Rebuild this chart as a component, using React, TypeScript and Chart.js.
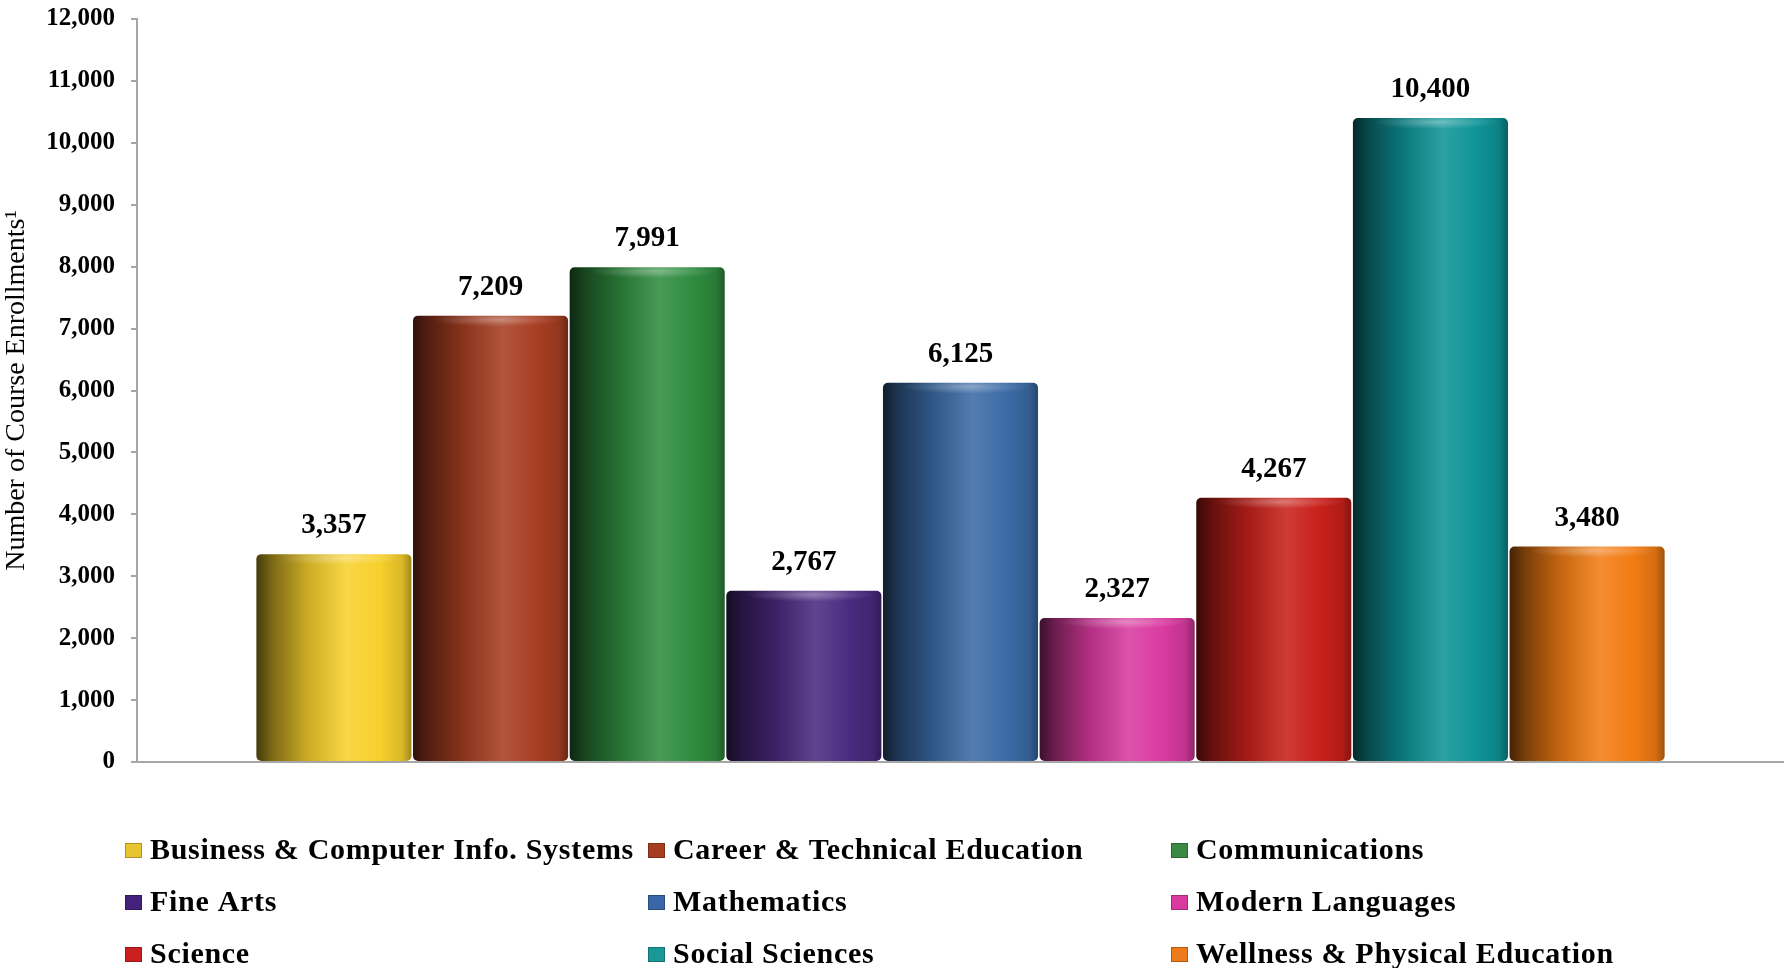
import React, { useEffect, useRef } from "react";
import { Chart, registerables } from "chart.js";

Chart.register(...registerables);

const categories = [
  "Business & Computer Info. Systems",
  "Career & Technical Education",
  "Communications",
  "Fine Arts",
  "Mathematics",
  "Modern Languages",
  "Science",
  "Social Sciences",
  "Wellness & Physical Education",
];
const enrollments = [3357, 7209, 7991, 2767, 6125, 2327, 4267, 10400, 3480];
const barColors = ["#F7D02C", "#A83E22", "#2F8C3F", "#4A2A80", "#3B6BA6", "#DA3AA0", "#C8201A", "#0E9497", "#F27C14"];
const legendColors = ["#E8C530", "#A83C20", "#3A8A44", "#42227A", "#3A66A8", "#D83AA0", "#CC2020", "#1A9898", "#EE7A1A"];
const yAxisTitle = "Number of Course Enrollments\u00B9";
const yMin = 0;
const yMax = 12000;
const yStep = 1000;

const SERIF = "'Liberation Serif', 'Times New Roman', serif";

function hexToRgb(h: string) {
  const n = parseInt(h.slice(1), 16);
  return [(n >> 16) & 255, (n >> 8) & 255, n & 255];
}
function mix(h: string, target: number, t: number) {
  const [r, g, b] = hexToRgb(h);
  const m = (v: number) => Math.round(v + (target - v) * t);
  return `rgb(${m(r)},${m(g)},${m(b)})`;
}

const cylinderPlugin = {
  id: "cylinder",
  beforeDatasetsDraw(chart: any) {
    const ctx = chart.ctx;
    chart.data.datasets.forEach((ds: any, i: number) => {
      const meta = chart.getDatasetMeta(i);
      const c = barColors[i];
      meta.data.forEach((el: any) => {
        const { x, width } = el.getProps(["x", "width"], true);
        const g = ctx.createLinearGradient(x - width / 2, 0, x + width / 2, 0);
        g.addColorStop(0, mix(c, 0, 0.72));
        g.addColorStop(0.1, mix(c, 0, 0.5));
        g.addColorStop(0.33, mix(c, 0, 0.18));
        g.addColorStop(0.58, mix(c, 255, 0.12));
        g.addColorStop(0.8, c);
        g.addColorStop(0.94, mix(c, 0, 0.12));
        g.addColorStop(1, mix(c, 0, 0.35));
        el.options = Object.assign({}, el.options, { backgroundColor: g });
      });
    });
  },
  afterDatasetsDraw(chart: any) {
    const ctx = chart.ctx;
    ctx.save();
    chart.data.datasets.forEach((ds: any, i: number) => {
      const meta = chart.getDatasetMeta(i);
      meta.data.forEach((el: any, j: number) => {
        const { x, y, width } = el.getProps(["x", "y", "width"], true);
        // soft elliptical top-cap highlight
        ctx.save();
        ctx.translate(x + width * 0.04, y + 4);
        ctx.scale(width * 0.42, 7);
        const hg = ctx.createRadialGradient(0, 0, 0, 0, 0, 1);
        hg.addColorStop(0, "rgba(255,255,255,0.32)");
        hg.addColorStop(0.6, "rgba(255,255,255,0.12)");
        hg.addColorStop(1, "rgba(255,255,255,0)");
        ctx.fillStyle = hg;
        ctx.beginPath();
        ctx.arc(0, 0, 1, 0, Math.PI * 2);
        ctx.fill();
        ctx.restore();
        // value label
        const v = ds.data[j];
        ctx.font = `bold 29px ${SERIF}`;
        ctx.fillStyle = "#000";
        ctx.textAlign = "center";
        ctx.textBaseline = "alphabetic";
        ctx.fillText(Number(v).toLocaleString("en-US"), x, y - 21);
      });
    });
    ctx.restore();
  },
};

const legendPlugin = {
  id: "gridLegend",
  afterDraw(chart: any) {
    const ctx = chart.ctx;
    const area = chart.chartArea;
    const colW = 523;
    const x0 = 125;
    const rowGap = 52;
    const firstBase = area.bottom + 97;
    ctx.save();
    ctx.font = `bold 30px ${SERIF}`;
    try { (ctx as any).letterSpacing = "0.7px"; } catch (e) {}
    ctx.textAlign = "left";
    ctx.textBaseline = "alphabetic";
    categories.forEach((name, i) => {
      const col = i % 3;
      const row = Math.floor(i / 3);
      const bx = x0 + col * colW;
      const base = firstBase + row * rowGap;
      ctx.fillStyle = legendColors[i];
      ctx.fillRect(bx, base - 16, 17, 15);
      ctx.strokeStyle = "rgba(0,0,0,0.25)";
      ctx.lineWidth = 1;
      ctx.strokeRect(bx + 0.5, base - 15.5, 16, 14);
      ctx.fillStyle = "#000";
      ctx.fillText(name, bx + 25, base);
    });
    ctx.restore();
  },
};

export default function App() {
  const ref = useRef<HTMLCanvasElement | null>(null);
  useEffect(() => {
    if (!ref.current) return;
    const chart = new Chart(ref.current, {
      type: "bar",
      data: {
        labels: [""],
        datasets: categories.map((name, i) => ({
          label: name,
          data: [enrollments[i]],
          backgroundColor: barColors[i],
          borderWidth: 0,
          borderRadius: 5,
          borderSkipped: false,
          categoryPercentage: 0.856,
          barPercentage: 0.99,
        })),
      },
      options: {
        responsive: false,
        animation: false,
        layout: { padding: { top: 19, right: 0, left: 0, bottom: 0 } },
        plugins: {
          legend: { display: false },
          tooltip: { enabled: false },
        },
        scales: {
          x: {
            type: "category",
            ticks: { display: false },
            grid: { display: false },
            border: { display: true, color: "#A6A6A6", width: 2 },
            afterFit: (s: any) => { s.height = 206; },
          },
          y: {
            min: yMin,
            max: yMax,
            ticks: {
              stepSize: yStep,
              padding: 16,
              color: "#000",
              font: { family: SERIF, size: 25, weight: "bold" },
              callback: (v: any) => Number(v).toLocaleString("en-US"),
            },
            grid: { display: true, drawOnChartArea: false, drawTicks: true, tickLength: 6, color: "#A6A6A6", lineWidth: 2 },
            border: { display: true, color: "#A6A6A6", width: 2 },
            title: {
              display: true,
              text: yAxisTitle,
              color: "#000",
              font: { family: SERIF, size: 28, weight: "normal" },
              padding: { top: 0, bottom: 0 },
            },
            afterFit: (s: any) => { s.width = 137; s.paddingTop = 0; s.paddingBottom = 0; },
          },
        },
      },
      plugins: [cylinderPlugin, legendPlugin],
    } as any);
    return () => chart.destroy();
  }, []);
  return (
    <div style={{ position: "absolute", left: 0, top: 0, width: 1784, height: 968, background: "#fff" }}>
      <canvas ref={ref} width={1784} height={968} />
    </div>
  );
}
